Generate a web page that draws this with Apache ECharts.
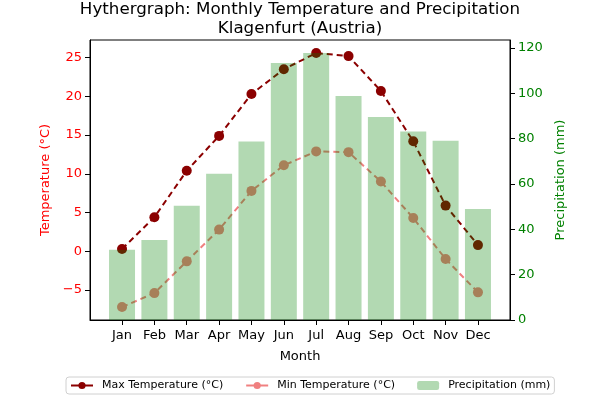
<!DOCTYPE html>
<html>
<head>
<meta charset="utf-8">
<script src="https://cdn.jsdelivr.net/npm/echarts@6/dist/echarts.min.js"></script>
<style>
  html, body { margin: 0; padding: 0; background: #fff; }
  #main { width: 600px; height: 400px; }
</style>
</head>
<body>
<div id="main"></div>
<script>
var months = ['Jan','Feb','Mar','Apr','May','Jun','Jul','Aug','Sep','Oct','Nov','Dec'];
var maxTemp = [0.3, 4.4, 10.4, 14.9, 20.3, 23.5, 25.6, 25.2, 20.7, 14.2, 5.9, 0.8];
var minTemp = [-7.2, -5.4, -1.3, 2.8, 7.8, 11.1, 12.9, 12.8, 9.0, 4.3, -1.0, -5.3];
var precip = [31, 35.3, 50.4, 64.5, 78.7, 113.4, 117.8, 98.8, 89.5, 83.1, 79.1, 49];
var tempTicks = [-5, 0, 5, 10, 15, 20, 25];
var precipTicks = [0, 20, 40, 60, 80, 100, 120];

function pairs(arr){
    var out = [];
    for (var i = 0; i < arr.length; i++) out.push([i, arr[i]]);
    return out;
}
var monthIdx = months.map(function(m, i){ return i; });
var font = 'DejaVu Sans';

var myChart = echarts.init(document.getElementById('main'));
var option = {
    animation: false,
    textStyle: { fontFamily: font },
    title: {
        text: 'Hythergraph: Monthly Temperature and Precipitation\nKlagenfurt (Austria)',
        left: 'center',
        top: -5,
        textStyle: { fontFamily: font, fontSize: 16.7, fontWeight: 'normal', color: '#000', lineHeight: 19 }
    },
    legend: {
        bottom: 6,
        left: 66,
        itemGap: 22,
        itemWidth: 22,
        itemHeight: 9,
        borderColor: '#d0d0d0',
        borderWidth: 1,
        borderRadius: 3,
        padding: [3, 4],
        lineStyle: { type: 'solid' },
        textStyle: { fontFamily: font, fontSize: 11, color: '#000', padding: [0, 0, 0, 4] },
        data: ['Max Temperature (°C)', 'Min Temperature (°C)', 'Precipitation (mm)']
    },
    grid: {
        left: 90, right: 90, top: 40, bottom: 80,
        show: true, borderColor: '#000', borderWidth: 1, backgroundColor: 'transparent'
    },
    xAxis: {
        type: 'value',
        min: -0.99, max: 11.99,
        name: 'Month', nameLocation: 'middle', nameGap: 30,
        nameTextStyle: { fontFamily: font, fontSize: 13, color: '#000' },
        splitLine: { show: false },
        axisLine: { show: true, onZero: false, lineStyle: { color: '#000' } },
        axisTick: { show: true, customValues: monthIdx, length: 5, lineStyle: { color: '#000' } },
        axisLabel: {
            customValues: monthIdx, fontSize: 13, color: '#000', margin: 9,
            formatter: function (v) { return months[Math.round(v)]; }
        }
    },
    yAxis: [{
        type: 'value',
        min: -8.87, max: 27.28,
        name: 'Temperature (°C)', nameLocation: 'middle', nameGap: 37,
        nameTextStyle: { fontFamily: font, fontSize: 13, color: '#ff0000' },
        splitLine: { show: false },
        axisLine: { show: true, onZero: false, lineStyle: { color: '#000' } },
        axisTick: { show: true, customValues: tempTicks, length: 5, lineStyle: { color: '#000' } },
        axisLabel: {
            customValues: tempTicks, fontSize: 13, color: '#ff0000', margin: 8,
            formatter: function (v) { return v < 0 ? '\u2212' + Math.abs(v) : String(v); }
        }
    }, {
        type: 'value',
        min: 0, max: 123.5,
        position: 'right',
        name: 'Precipitation (mm)', nameLocation: 'middle', nameGap: 40,
        nameTextStyle: { fontFamily: font, fontSize: 13, color: '#008000' },
        splitLine: { show: false },
        axisLine: { show: true, onZero: false, lineStyle: { color: '#000' } },
        axisTick: { show: true, customValues: precipTicks, length: 5, lineStyle: { color: '#000' } },
        axisLabel: { customValues: precipTicks, fontSize: 13, color: '#008000', margin: 8 }
    }],
    series: [{
        name: 'Max Temperature (°C)',
        type: 'line',
        yAxisIndex: 0,
        data: pairs(maxTemp),
        z: 2,
        symbol: 'circle', symbolSize: 10,
        itemStyle: { color: '#8b0000' },
        lineStyle: { color: '#8b0000', width: 2, type: [6, 4] }
    }, {
        name: 'Min Temperature (°C)',
        type: 'line',
        yAxisIndex: 0,
        data: pairs(minTemp),
        z: 2,
        symbol: 'circle', symbolSize: 10,
        itemStyle: { color: '#f08080' },
        lineStyle: { color: '#f08080', width: 2, type: [6, 4] }
    }, {
        name: 'Precipitation (mm)',
        type: 'bar',
        yAxisIndex: 1,
        data: pairs(precip),
        z: 3,
        barWidth: 26,
        itemStyle: { color: 'rgba(0,128,0,0.3)' }
    }]
};
myChart.setOption(option);
</script>
</body>
</html>
